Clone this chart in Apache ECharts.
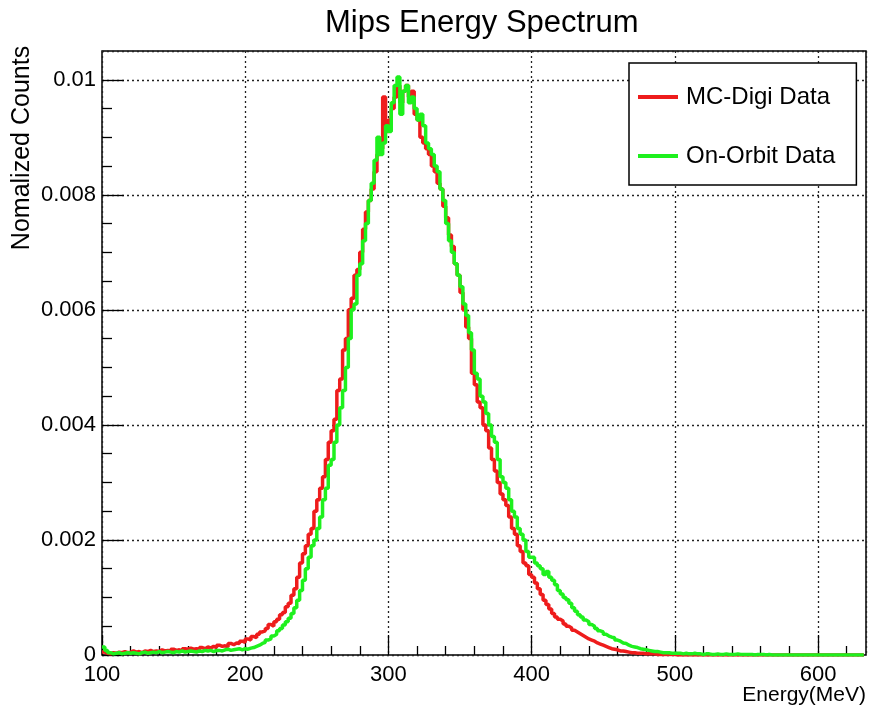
<!DOCTYPE html>
<html>
<head>
<meta charset="utf-8">
<script src="https://cdn.jsdelivr.net/npm/echarts@6/dist/echarts.min.js"></script>
<style>
  html, body { margin: 0; padding: 0; background: #fff; }
  #chart { width: 869px; height: 711px; }
</style>
</head>
<body>
<div id="chart"></div>
<script>
// Histogram binning (MeV)
const binStart = 100;
const binWidth = 2;

// Normalized counts per 2 MeV bin, starting at 100 MeV (one row = 20 MeV)
const mcDigi = [
  0.00005, 0.00003, 0.00002, 0.00004, 0.00003, 0.00005, 0.00004, 0.00006, 0.00004, 0.00005,
  0.00007, 0.00005, 0.00006, 0.00004, 0.00007, 0.00006, 0.00008, 0.00006, 0.00007, 0.00006,
  0.00009, 0.00007, 0.00008, 0.00006, 0.0001, 0.00008, 0.00009, 0.00007, 0.00011, 0.0001,
  0.00012, 0.0001, 0.00011, 0.00009, 0.00013, 0.00011, 0.00014, 0.00012, 0.00015, 0.00013,
  0.00017, 0.00015, 0.00016, 0.00014, 0.0002, 0.00018, 0.00021, 0.0002, 0.00024, 0.00022,
  0.00028, 0.00026, 0.00032, 0.0003, 0.00036, 0.0004, 0.00042, 0.00046, 0.00053, 0.0005,
  0.00058, 0.00062, 0.0007, 0.00074, 0.00084, 0.0009, 0.00104, 0.00115, 0.00135, 0.0016,
  0.00176, 0.0019, 0.0021, 0.0022, 0.0025, 0.0027, 0.0029, 0.0031, 0.0034, 0.0037,
  0.0039, 0.0041, 0.0046, 0.0048, 0.0053, 0.0055, 0.006, 0.0062, 0.0066, 0.0067,
  0.007, 0.0074, 0.0077, 0.0079, 0.0081, 0.0084, 0.0087, 0.0088, 0.0097, 0.0091,
  0.0093, 0.0095, 0.0097, 0.0099, 0.0096, 0.0098, 0.0099, 0.0097, 0.0098, 0.0094,
  0.0093, 0.009, 0.0089, 0.0088, 0.0087, 0.0085, 0.0084, 0.0082, 0.0081, 0.0078,
  0.0076, 0.0073, 0.0071, 0.0068, 0.0066, 0.0063, 0.006, 0.0057, 0.0055, 0.0049,
  0.0047, 0.0044, 0.0043, 0.004, 0.0039, 0.0036, 0.0034, 0.0032, 0.003, 0.0028,
  0.0027, 0.0026, 0.0024, 0.0022, 0.0021, 0.0019, 0.0018, 0.0016, 0.00155, 0.0014,
  0.00135, 0.00125, 0.00115, 0.00105, 0.00095, 0.00088, 0.0008, 0.00072, 0.00066, 0.00062,
  0.00059, 0.00054, 0.0005, 0.00047, 0.00043, 0.0004, 0.00037, 0.00034, 0.00031, 0.00028,
  0.00026, 0.00024, 0.00021, 0.00019, 0.00017, 0.00015, 0.00013, 0.00011, 0.0001, 0.00009,
  0.00007, 0.00007, 0.00006, 0.00005, 0.00004, 0.00004, 0.00003, 0.00003, 0.00003, 0.00002,
  0.00002, 0.00002, 0.00002, 0.00001, 0.00001, 0.00001, 0.00001, 0.00001, 0.00001, 0.00001,
  0, 0, 0, 0, 0, 0, 0, 0, 0, 0,
  0, 0, 0, 0, 0, 0, 0, 0, 0, 0,
  0, 0, 0, 0, 0, 0, 0, 0, 0, 0,
  0, 0, 0, 0, 0, 0, 0, 0, 0, 0,
  0, 0, 0, 0, 0, 0, 0, 0, 0, 0,
  0, 0, 0, 0, 0, 0, 0, 0, 0, 0,
  0, 0, 0, 0, 0, 0
];

const onOrbit = [
  0.00014, 0.00008, 0.00004, 0.00002, 0.00003, 0.00004, 0.00002, 0.00003, 0.00004, 0.00003,
  0.00004, 0.00003, 0.00002, 0.00004, 0.00005, 0.00003, 0.00004, 0.00005, 0.00004, 0.00006,
  0.00004, 0.00005, 0.00006, 0.00005, 0.00004, 0.00006, 0.00005, 0.00007, 0.00005, 0.00006,
  0.00007, 0.00006, 0.00005, 0.00007, 0.00006, 0.00008, 0.00007, 0.00008, 0.00006, 0.00008,
  0.00008, 0.00007, 0.00009, 0.0001, 0.00008, 0.00009, 0.0001, 0.00011, 0.00009, 0.00011,
  0.0001, 0.00012, 0.00013, 0.00015, 0.00017, 0.0002, 0.00022, 0.00026, 0.00028, 0.00033,
  0.00036, 0.00042, 0.00046, 0.00052, 0.00058, 0.00064, 0.00072, 0.00082, 0.00095, 0.00112,
  0.0013, 0.0015, 0.0017, 0.0019, 0.002, 0.0022, 0.0024, 0.0027, 0.0029, 0.0033,
  0.0034, 0.0037, 0.004, 0.0043, 0.0046, 0.005, 0.0055, 0.006, 0.0061, 0.0066,
  0.0068, 0.0072, 0.0075, 0.0079, 0.0082, 0.0086, 0.009, 0.0087, 0.0089, 0.0092,
  0.0091, 0.0096, 0.0099, 0.01005, 0.0094, 0.0098, 0.0099, 0.0096, 0.0097, 0.0095,
  0.0093, 0.0094, 0.0092, 0.0089, 0.0088, 0.0087, 0.0085, 0.0084, 0.0081, 0.0079,
  0.0075, 0.0072, 0.007, 0.0068, 0.0066, 0.0064, 0.0061, 0.0059, 0.0056, 0.0053,
  0.0049, 0.0048, 0.0045, 0.0044, 0.0042, 0.004, 0.0038, 0.0037, 0.0034, 0.0031,
  0.003, 0.0029, 0.0027, 0.0025, 0.0024, 0.0022, 0.0021, 0.002, 0.0018, 0.0017,
  0.0017, 0.0016, 0.00155, 0.0015, 0.0014, 0.00145, 0.00135, 0.0013, 0.00122, 0.00112,
  0.00106, 0.001, 0.00096, 0.0009, 0.00082, 0.00076, 0.0007, 0.00066, 0.00061, 0.00058,
  0.00053, 0.0005, 0.00046, 0.00042, 0.0004, 0.00036, 0.00033, 0.00031, 0.0003, 0.00026,
  0.00024, 0.00021, 0.0002, 0.00017, 0.00015, 0.00014, 0.00013, 0.00011, 0.0001, 0.00009,
  0.00008, 0.00007, 0.00006, 0.00006, 0.00005, 0.00004, 0.00004, 0.00004, 0.00003, 0.00003,
  0.00003, 0.00003, 0.00002, 0.00003, 0.00002, 0.00002, 0.00003, 0.00002, 0.00002, 0.00001,
  0.00002, 0.00002, 0.00001, 0.00001, 0.00002, 0.00001, 0.00001, 0.00002, 0.00001, 0.00001,
  0.00001, 0.00002, 0.00001, 0.00001, 0.00001, 0.00001, 0.00001, 0, 0.00001, 0.00001,
  0.00001, 0, 0.00001, 0, 0, 0, 0, 0, 0, 0,
  0, 0, 0, 0, 0, 0, 0, 0, 0, 0,
  0, 0, 0, 0, 0, 0, 0, 0, 0, 0,
  0, 0, 0, 0, 0, 0
];

const seriesNames = ['MC-Digi Data', 'On-Orbit Data'];

// Axis ranges and tick spacing
const xMin = 100, xMax = 633.5, xMajor = 100, xMinor = 20;
const yMin = 0, yMax = 0.0105, yMajor = 0.002, yMinor = 0.0005;

// Convert bin contents into step-line points (left edges + closing right edge)
function toSteps(vals) {
  const pts = vals.map((v, i) => [binStart + i * binWidth, v]);
  pts.push([binStart + vals.length * binWidth, vals[vals.length - 1]]);
  return pts;
}

function minorTicks(min, max, minor, major) {
  const out = [];
  const n = Math.floor((max - min) / minor + 1e-9);
  for (let i = 1; i <= n; i++) {
    const v = +(min + i * minor).toFixed(6);
    const r = (v - min) / major;
    if (Math.abs(r - Math.round(r)) > 1e-6 && v < max) out.push(v);
  }
  return out;
}

const FONT = '"Liberation Sans", Arial, sans-serif';
const tickStyle = { color: '#000', width: 1.3 };
const gridLine = { show: true, lineStyle: { type: [2, 3], color: '#222', width: 1.3 } };

const chart = echarts.init(document.getElementById('chart'), null, { renderer: 'canvas' });
chart.setOption({
  animation: false,
  backgroundColor: '#fff',
  textStyle: { fontFamily: FONT },
  title: {
    text: 'Mips Energy Spectrum',
    left: 320, top: 3,
    textStyle: { fontSize: 31, fontWeight: 'normal', color: '#000', fontFamily: FONT }
  },
  grid: {
    left: 102, right: 3, top: 51, bottom: 56,
    show: true, borderColor: '#000', borderWidth: 1.5, backgroundColor: 'transparent'
  },
  legend: {
    data: seriesNames,
    orient: 'vertical',
    left: 629, top: 63,
    padding: [22, 21, 17, 9],
    itemGap: 35,
    itemWidth: 40, itemHeight: 4,
    icon: 'rect',
    backgroundColor: '#fff',
    borderColor: '#000', borderWidth: 1.5,
    textStyle: { fontSize: 24, color: '#000', fontFamily: FONT, padding: [0, 0, 0, 3] }
  },
  xAxis: [
    {
      type: 'value', min: xMin, max: xMax, interval: xMajor,
      axisLine: { show: false },
      axisTick: { inside: true, length: 20, lineStyle: tickStyle },
      axisLabel: { showMaxLabel: false, fontSize: 22, margin: 9, color: '#000', fontFamily: FONT },
      splitLine: gridLine
    },
    {
      type: 'value', min: xMin, max: xMax, position: 'bottom',
      axisLine: { show: false }, axisLabel: { show: false }, splitLine: { show: false },
      axisTick: { inside: true, length: 9, lineStyle: tickStyle, customValues: minorTicks(xMin, xMax, xMinor, xMajor) }
    }
  ],
  yAxis: [
    {
      type: 'value', min: yMin, max: yMax, interval: yMajor,
      axisLine: { show: false },
      axisTick: { inside: true, length: 22, lineStyle: tickStyle },
      axisLabel: { showMaxLabel: false, fontSize: 22, margin: 6, color: '#000', fontFamily: FONT },
      splitLine: gridLine
    },
    {
      type: 'value', min: yMin, max: yMax, position: 'left',
      axisLine: { show: false }, axisLabel: { show: false }, splitLine: { show: false },
      axisTick: { inside: true, length: 10, lineStyle: tickStyle, customValues: minorTicks(yMin, yMax, yMinor, yMajor) }
    }
  ],
  graphic: [
    {
      type: 'text', x: 22, y: 148, rotation: Math.PI / 2,
      style: { text: 'Nomalized Counts', fontSize: 25, fontFamily: FONT, fill: '#000', align: 'center', verticalAlign: 'middle' }
    },
    {
      type: 'text', x: 866, y: 695,
      style: { text: 'Energy(MeV)', fontSize: 21, fontFamily: FONT, fill: '#000', align: 'right', verticalAlign: 'middle' }
    }
  ],
  series: [
    {
      name: seriesNames[0], type: 'line', step: 'end', showSymbol: false, silent: true,
      xAxisIndex: 0, yAxisIndex: 0,
      color: '#ee1c1c', lineStyle: { width: 3.5, color: '#ee1c1c' },
      data: toSteps(mcDigi)
    },
    {
      name: seriesNames[1], type: 'line', step: 'end', showSymbol: false, silent: true,
      xAxisIndex: 0, yAxisIndex: 0,
      color: '#1ef01e', lineStyle: { width: 3.5, color: '#1ef01e' },
      data: toSteps(onOrbit)
    }
  ]
});
</script>
</body>
</html>
